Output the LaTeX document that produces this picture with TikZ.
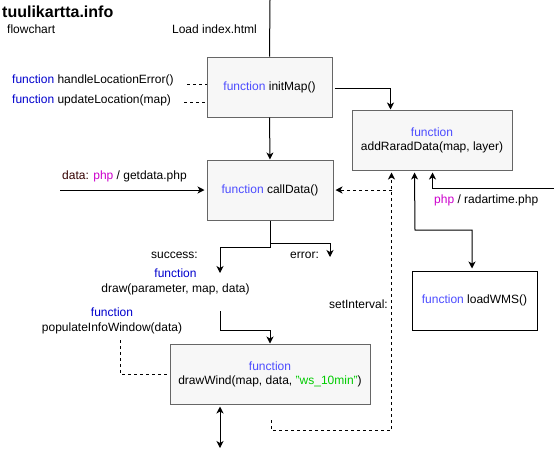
\documentclass[tikz,border=0pt]{standalone}
\usepackage{fontspec}
\setmainfont{Liberation Sans}
\usetikzlibrary{arrows.meta}
\definecolor{fnin}{HTML}{4C4CFF}
\definecolor{fnout}{HTML}{0000CC}
\definecolor{phpc}{HTML}{CC00CC}
\definecolor{datac}{HTML}{330000}
\definecolor{strc}{HTML}{00CC00}
\definecolor{boxfill}{HTML}{F7F7F7}
\definecolor{boxline}{HTML}{666666}
\tikzset{
  fbox/.style={draw=boxline, fill=boxfill, line width=1pt, rectangle, inner sep=0pt, align=center, font=\fontsize{12}{14}\selectfont},
  wbox/.style={draw=black, fill=white, line width=1pt, rectangle, inner sep=0pt, align=center, font=\fontsize{12}{14}\selectfont},
  lbl/.style={inner sep=0pt, align=center, font=\fontsize{12}{15}\selectfont},
  conn/.style={draw=black, line width=1pt},
  arr/.style={conn, -{Stealth[length=7pt,width=7pt,inset=2pt]}},
  darr/.style={conn, {Stealth[length=7pt,width=7pt,inset=2pt]}-{Stealth[length=7pt,width=7pt,inset=2pt]}},
  dsh/.style={dash pattern=on 3pt off 3pt},
}
\begin{document}
\begin{tikzpicture}[x=1pt,y=-1pt]
\useasboundingbox (0,0) rectangle (554,461);
% boxes
\node[fbox, minimum width=125pt, minimum height=60pt] (initMap) at (269.5,87) {\textcolor{fnin}{function} initMap()};
\node[fbox, minimum width=126pt, minimum height=60pt] (callData) at (270,190) {\textcolor{fnin}{function} callData()};
\node[fbox, minimum width=160pt, minimum height=60pt] (addRarad) at (432,140) {\textcolor{fnin}{function}\\addRaradData(map, layer)};
\node[wbox, minimum width=125pt, minimum height=59pt] (loadWMS) at (474.5,300.5) {\textcolor{fnin}{function} loadWMS()};
\node[fbox, minimum width=200pt, minimum height=60pt] (drawWind) at (270,374) {\textcolor{fnin}{function}\\drawWind(map, data, \textcolor{strc}{"ws\_10min"})};
% texts
\node[lbl, anchor=west, font=\fontsize{16}{18}\selectfont\bfseries] (title) at (2,12) {tuulikartta.info};
\node[lbl, anchor=west] (flow) at (7,29) {flowchart};
\node[lbl] (load) at (214.5,29) {Load index.html};
\node[lbl, anchor=west] (handle) at (12,80) {\textcolor{fnout}{function} handleLocationError()};
\node[lbl, anchor=west] (update) at (12,100) {\textcolor{fnout}{function} updateLocation(map)};
\node[lbl, anchor=west] (getdata) at (62,176) {\textcolor{datac}{data:} \textcolor{phpc}{php} / getdata.php};
\node[lbl, anchor=west] (radartime) at (434,200) {\textcolor{phpc}{php} / radartime.php};
\node[lbl, anchor=east] (success) at (198,255) {success:};
\node[lbl, anchor=west] (error) at (290,255) {error:};
\node[lbl] (drawfn) at (175.5,282) {\textcolor{fnout}{function}\\draw(parameter, map, data)};
\node[lbl, anchor=east] (setint) at (388,304) {setInterval:};
\node[lbl] (popfn) at (112,321) {\textcolor{fnout}{function}\\populateInfoWindow(data)};
% free ends
\coordinate (topin) at (270,0);
\coordinate (gdin) at (60,190);
\coordinate (rtin) at (554,188);
\coordinate (succend) at (220,273);
\coordinate (errend) at (330,257);
\coordinate (drawout) at (220,311);
\coordinate (popout) at (120,340);
\coordinate (hlout) at (187,84);
\coordinate (ulout) at (184,102);
\coordinate (siout) at (271,420);
\coordinate (sibr) at (392,190);
\coordinate (bottomend) at (220,448);
% connectors
\draw[conn] (topin) -- (initMap.north);
\draw[arr] (initMap.south) -- (callData.north);
\draw[arr] ([xshift=2pt,yshift=-1pt]initMap.east) -| ([xshift=39pt]addRarad.north west);
\draw[conn,dsh] (hlout) -- ([yshift=3pt]initMap.west);
\draw[conn,dsh] (ulout) -- ([yshift=-15pt]initMap.west);
\draw[arr] (gdin) -- ([xshift=-2pt]callData.west);
\draw[arr] (callData.south) -- (270,247) -| (succend);
\draw[arr] (270,243) -| (errend);
\draw[arr] (drawout) -- (220,330) -| (drawWind.north);
\draw[conn,dsh] (popout) |- (drawWind.west);
\draw[darr] ([xshift=-50pt,yshift=-2pt]drawWind.south) -- (bottomend);
\draw[arr,dsh] (siout) -- (271,430) -| ([xshift=40pt,yshift=-2pt]addRarad.south west);
\draw[arr,dsh] (sibr) -- ([xshift=2pt]callData.east);
\draw[arr] (rtin) -| ([xshift=81pt,yshift=-2pt]addRarad.south west);
\draw[darr] ([xshift=63pt,yshift=-2pt]addRarad.south west) -- (415,230) -| ([xshift=-2.5pt,yshift=2pt]loadWMS.north);
\end{tikzpicture}
\end{document}
